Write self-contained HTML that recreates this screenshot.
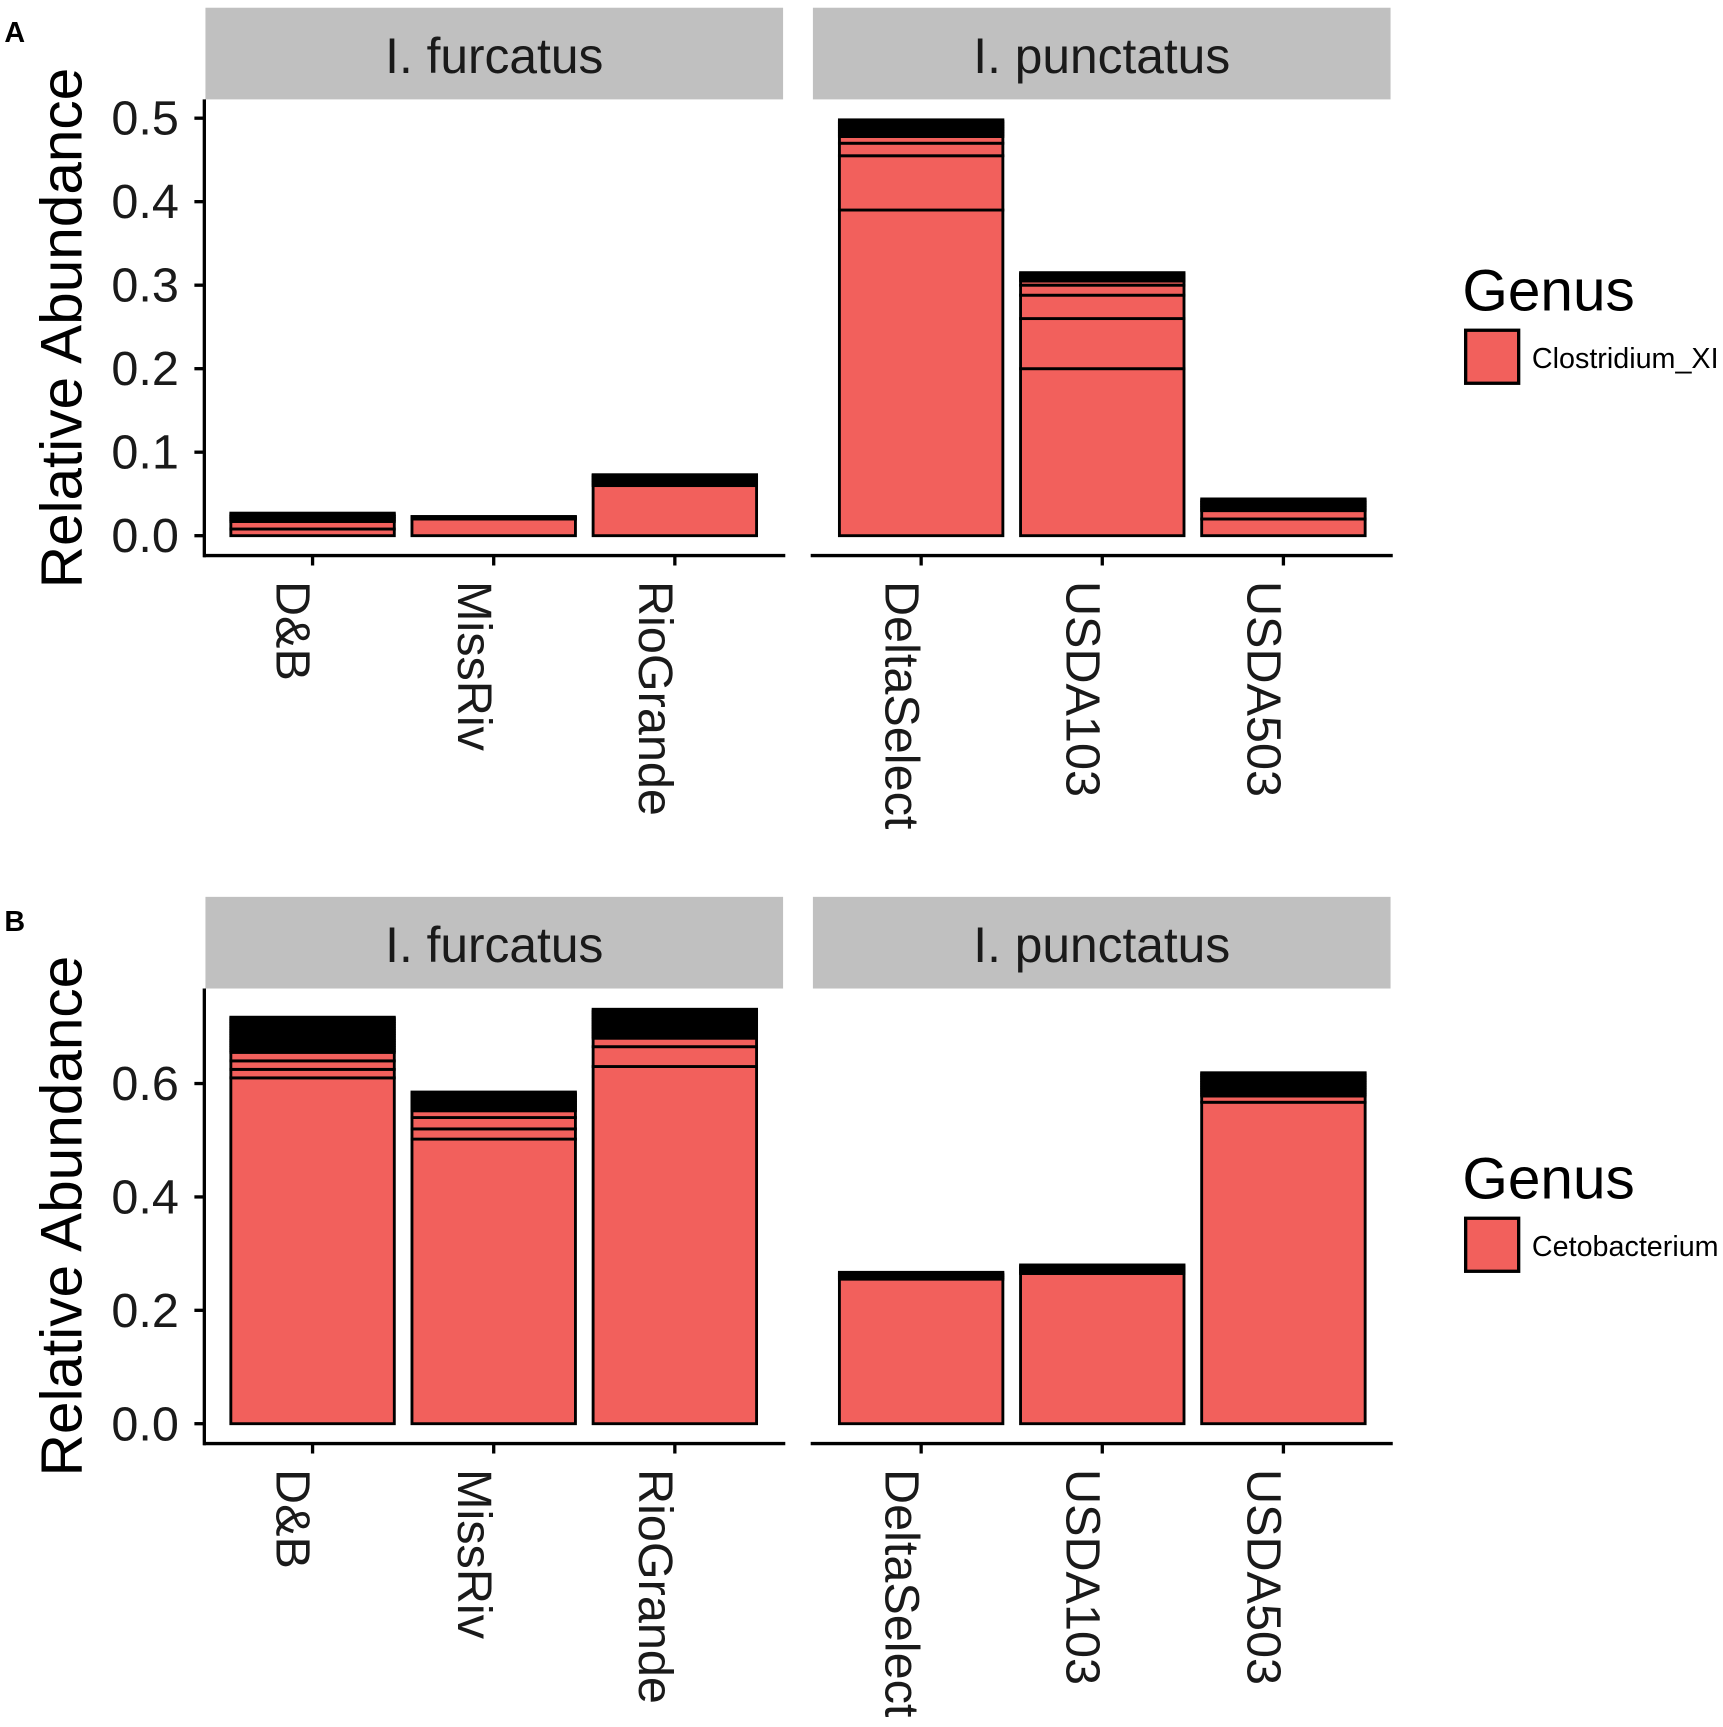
<!DOCTYPE html>
<html><head><meta charset="utf-8"><style>html,body{margin:0;padding:0;background:#fff}svg{display:block}</style></head>
<body>
<svg id="chart" width="1723" height="1727" viewBox="1 0 1560 1563.6" preserveAspectRatio="none" xmlns="http://www.w3.org/2000/svg" font-family="'Liberation Sans', Arial, sans-serif"></svg>
<script>
// ---- data ----
const categoriesLeft = ["D&B","MissRiv","RioGrande"];
const categoriesRight = ["DeltaSelect","USDA103","USDA503"];
const facetTitles = ["I. furcatus","I. punctatus"];
// Panel A (Clostridium_XI) stacked segment values per bar
const segA_DB = [0.008,0.009,0.002,0.002,0.002,0.002,0.002];
const segA_MissRiv = [0.02,0.001,0.001,0.001];
const segA_RioGrande = [0.06,0.002,0.002,0.002,0.002,0.002,0.002,0.001];
const segA_DeltaSelect = [0.39,0.065,0.015,0.008,0.002,0.002,0.002,0.002,0.002,0.002,0.002,0.002,0.002,0.002];
const segA_USDA103 = [0.2,0.06,0.028,0.012,0.005,0.002,0.002,0.002,0.002,0.002];
const segA_USDA503 = [0.02,0.01,0.002,0.002,0.002,0.002,0.002,0.002,0.002];
// Panel B (Cetobacterium)
const segB_DB = [0.61,0.015,0.015,0.015,0.003,0.003,0.003,0.003,0.003,0.003,0.003,0.003,0.003,0.003,0.003,0.003,0.003,0.003,0.003,0.003,0.003,0.003,0.003,0.003,0.002];
const segB_MissRiv = [0.502,0.018,0.02,0.012,0.003,0.003,0.003,0.003,0.003,0.003,0.003,0.003,0.003,0.003,0.003];
const segB_RioGrande = [0.63,0.035,0.015,0.003,0.003,0.003,0.003,0.003,0.003,0.003,0.003,0.003,0.003,0.003,0.003,0.003,0.003,0.003,0.003,0.003];
const segB_DeltaSelect = [0.255,0.003,0.003,0.003,0.003];
const segB_USDA103 = [0.265,0.003,0.003,0.003,0.003,0.003];
const segB_USDA503 = [0.567,0.011,0.003,0.003,0.003,0.003,0.003,0.003,0.003,0.003,0.003,0.003,0.003,0.003,0.003,0.002];
const ticksA = [0,0.1,0.2,0.3,0.4,0.5];
const tickLabelsA = ["0.0","0.1","0.2","0.3","0.4","0.5"];
const ticksB = [0,0.2,0.4,0.6];
const tickLabelsB = ["0.0","0.2","0.4","0.6"];
const legendA = "Clostridium_XI";
const legendB = "Cetobacterium";

const NS="http://www.w3.org/2000/svg";
const svg=document.getElementById('chart');
function mk(tag,attrs,parent,text){const e=document.createElementNS(NS,tag);for(const k in attrs)e.setAttribute(k,attrs[k]);if(text!==undefined)e.textContent=text;(parent||svg).appendChild(e);return e;}
const FILL="#F2605C";

function panel(p){
  const g=mk('g',{});
  
  
  const y=v=>p.y0-v*p.scale;
  const facetX=[187,737], facetW=523, barW=148, step=164, firstC=[284,835];
  const pl=mk('text',{x:5,y:p.top+31,'font-size':26,'font-weight':'bold'},g,p.id);
  
  
  for(let f=0;f<2;f++){
    const s=mk('rect',{x:facetX[f],y:p.top,width:facetW,height:83,fill:'#C0C0C0'},g);
    
    
    const st=mk('text',{x:facetX[f]+facetW/2,y:p.top+59,'font-size':45,'text-anchor':'middle',fill:'#1a1a1a'},g,facetTitles[f]);
    
    
    const ax=mk('line',{x1:facetX[f]-2,x2:facetX[f]+facetW+2,y1:p.axisY,y2:p.axisY,stroke:'#000','stroke-width':3},g);
    
    
    const cats=f===0?categoriesLeft:categoriesRight;
    cats.forEach((c,i)=>{
      const cx=firstC[f]+i*step;
      const segs=p.segs[f][i];
      let cum=0;
      const bg=mk('g',{},g);
      
      
      segs.forEach(v=>{
        const y1=y(cum+v), y2=y(cum);
        const r=mk('rect',{x:cx-barW/2,y:y1,width:barW,height:Math.max(0,y2-y1),fill:FILL,stroke:'#000','stroke-width':2.6},bg);
        
        
        cum+=v;
      });
      mk('line',{x1:cx,x2:cx,y1:p.axisY,y2:p.axisY+9,stroke:'#000','stroke-width':3},g);
      const t=mk('text',{transform:`translate(${cx-18},${p.axisY+23}) rotate(90)`,'font-size':44,'dominant-baseline':'central',fill:'#1a1a1a'},g,c);
      
      
    });
  }
  const ya=mk('line',{x1:186,x2:186,y1:p.top+83,y2:p.axisY+1.5,stroke:'#000','stroke-width':3},g);
  
  
  p.ticks.forEach((tv,i)=>{
    mk('line',{x1:177,x2:186,y1:y(tv),y2:y(tv),stroke:'#000','stroke-width':3},g);
    const tl=mk('text',{x:163,y:y(tv)+15,'font-size':44,'text-anchor':'end',fill:'#1a1a1a'},g,p.tickLabels[i]);
    
    
  });
  const yt=mk('text',{transform:`translate(75,${p.titleY}) rotate(-90)`,'font-size':53,'text-anchor':'middle'},g,'Relative Abundance');
  
  
  const lg=mk('g',{},g);
  
  
  const lt=mk('text',{x:1325,y:p.legY,'font-size':53},lg,'Genus');
  
  
  const lk=mk('rect',{x:1328,y:p.legY+18,width:48,height:48,fill:FILL,stroke:'#000','stroke-width':3},lg);
  
  
  const ll=mk('text',{x:1388,y:p.legY+52,'font-size':26},lg,p.legend);
  
  
}

panel({id:'A',top:7,axisY:503,y0:485,scale:756,ticks:ticksA,tickLabels:tickLabelsA,titleY:297,legY:281,legend:legendA,
  segs:[[segA_DB,segA_MissRiv,segA_RioGrande],[segA_DeltaSelect,segA_USDA103,segA_USDA503]]});
panel({id:'B',top:812,axisY:1307,y0:1289,scale:513.3,ticks:ticksB,tickLabels:tickLabelsB,titleY:1101,legY:1085,legend:legendB,
  segs:[[segB_DB,segB_MissRiv,segB_RioGrande],[segB_DeltaSelect,segB_USDA103,segB_USDA503]]});
</script>
</body></html>
